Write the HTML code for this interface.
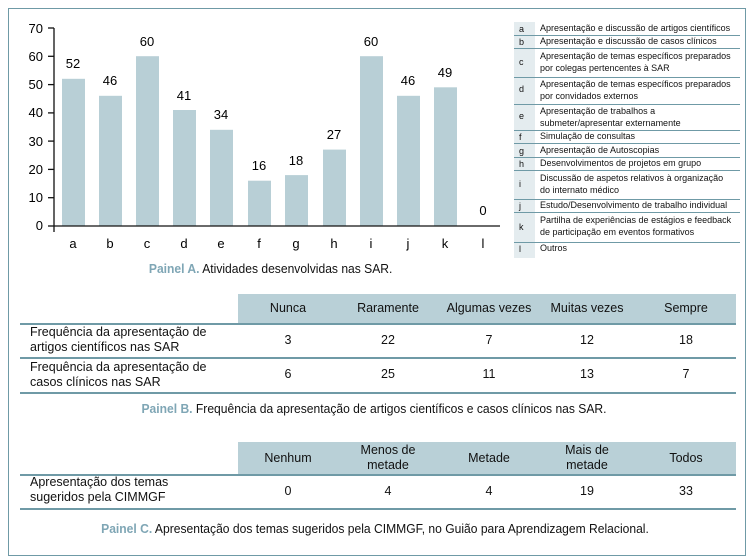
<!DOCTYPE html>
<html><head><meta charset="utf-8"><style>
body{margin:0;width:751px;height:559px;background:#fff;font-family:"Liberation Sans",sans-serif;color:#111;position:relative;overflow:hidden}
.a{position:absolute;white-space:nowrap}
.frame{position:absolute;left:8px;top:8px;width:738px;height:548px;border:1.5px solid #6f9aa6;box-sizing:border-box}
.cap{font-size:13px;transform:scaleX(0.93);transform-origin:center}
.cap b{color:#7fa6b5}
.hdr{position:absolute;background:#b9d0d7}
.ln{position:absolute;height:1.5px;background:#6f9aa6}
.c{position:absolute;text-align:center;font-size:12.5px;transform:translateX(-50%);white-space:nowrap;line-height:15px}
.lg{position:absolute;left:540px;font-size:9px;line-height:11.5px;white-space:nowrap}
.lt{position:absolute;left:519px;font-size:9px}
.ll{position:absolute;left:514px;width:226px;height:1px;background:#6f9aa6}
</style></head><body>
<div class="frame"></div>
<svg class="a" style="left:0;top:0" width="510" height="260" font-family="Liberation Sans" font-size="13">
<g fill="#b8cfd6">
<rect x="62" y="78.8" width="23" height="147.2"/>
<rect x="99" y="95.8" width="23" height="130.2"/>
<rect x="136" y="56.2" width="23" height="169.8"/>
<rect x="173" y="110" width="23" height="116"/>
<rect x="210" y="129.8" width="23" height="96.2"/>
<rect x="248" y="180.7" width="23" height="45.3"/>
<rect x="285" y="175.1" width="23" height="50.9"/>
<rect x="323" y="149.6" width="23" height="76.4"/>
<rect x="360" y="56.2" width="23" height="169.8"/>
<rect x="397" y="95.8" width="23" height="130.2"/>
<rect x="434" y="87.3" width="23" height="138.7"/>
</g>
<g stroke="#111" stroke-width="1.3">
<line x1="54" y1="28" x2="54" y2="232"/>
<line x1="54" y1="226" x2="500" y2="226"/>
<line x1="48" y1="28" x2="54" y2="28"/><line x1="48" y1="56.3" x2="54" y2="56.3"/><line x1="48" y1="84.6" x2="54" y2="84.6"/><line x1="48" y1="112.9" x2="54" y2="112.9"/><line x1="48" y1="141.1" x2="54" y2="141.1"/><line x1="48" y1="169.4" x2="54" y2="169.4"/><line x1="48" y1="197.7" x2="54" y2="197.7"/><line x1="48" y1="226" x2="54" y2="226"/>
</g>
<g text-anchor="end">
<text x="43" y="33">70</text><text x="43" y="61">60</text><text x="43" y="89">50</text><text x="43" y="117">40</text><text x="43" y="146">30</text><text x="43" y="174">20</text><text x="43" y="202">10</text><text x="43" y="230">0</text>
</g>
<g text-anchor="middle">
<text x="73" y="68">52</text><text x="110" y="85">46</text><text x="147" y="46">60</text><text x="184" y="100">41</text><text x="221" y="119">34</text><text x="259" y="170">16</text><text x="296" y="165">18</text><text x="334" y="139">27</text><text x="371" y="46">60</text><text x="408" y="85">46</text><text x="445" y="77">49</text><text x="483" y="215">0</text>
<text x="73" y="248">a</text><text x="110" y="248">b</text><text x="147" y="248">c</text><text x="184" y="248">d</text><text x="221" y="248">e</text><text x="259" y="248">f</text><text x="296" y="248">g</text><text x="334" y="248">h</text><text x="371" y="248">i</text><text x="408" y="248">j</text><text x="445" y="248">k</text><text x="483" y="248">l</text>
</g>
</svg>
<div class="a cap" style="left:140px;top:261px;width:254px;text-align:center"><b>Painel A.</b> Atividades desenvolvidas nas SAR.</div>
<div class="a" style="left:514px;top:22px;width:21px;height:236px;background:#e4ecef"></div>
<div class="ll" style="top:35px"></div><div class="ll" style="top:48px"></div><div class="ll" style="top:77px"></div><div class="ll" style="top:104px"></div><div class="ll" style="top:130px"></div><div class="ll" style="top:143px"></div><div class="ll" style="top:157px"></div><div class="ll" style="top:170px"></div><div class="ll" style="top:199px"></div><div class="ll" style="top:212px"></div><div class="ll" style="top:242px"></div>
<div class="lt" style="top:24px">a</div><div class="lg" style="top:23px">Apresentação e discussão de artigos científicos</div>
<div class="lt" style="top:37px">b</div><div class="lg" style="top:36px">Apresentação e discussão de casos clínicos</div>
<div class="lt" style="top:57px">c</div><div class="lg" style="top:51px">Apresentação de temas específicos preparados<br>por colegas pertencentes à SAR</div>
<div class="lt" style="top:84px">d</div><div class="lg" style="top:79px">Apresentação de temas específicos preparados<br>por convidados externos</div>
<div class="lt" style="top:111px">e</div><div class="lg" style="top:106px">Apresentação de trabalhos a<br>submeter/apresentar externamente</div>
<div class="lt" style="top:132px">f</div><div class="lg" style="top:131px">Simulação de consultas</div>
<div class="lt" style="top:146px">g</div><div class="lg" style="top:145px">Apresentação de Autoscopias</div>
<div class="lt" style="top:159px">h</div><div class="lg" style="top:158px">Desenvolvimentos de projetos em grupo</div>
<div class="lt" style="top:179px">i</div><div class="lg" style="top:173px">Discussão de aspetos relativos à organização<br>do internato médico</div>
<div class="lt" style="top:201px">j</div><div class="lg" style="top:200px">Estudo/Desenvolvimento de trabalho individual</div>
<div class="lt" style="top:222px">k</div><div class="lg" style="top:215px">Partilha de experiências de estágios e feedback<br>de participação em eventos formativos</div>
<div class="lt" style="top:244px">l</div><div class="lg" style="top:243px">Outros</div>

<div class="hdr" style="left:238px;top:294px;width:498px;height:29px"></div>
<div class="ln" style="left:20px;top:323px;width:716px"></div>
<div class="ln" style="left:20px;top:357px;width:716px"></div>
<div class="ln" style="left:20px;top:392px;width:716px"></div>
<div class="c" style="left:288px;top:301px">Nunca</div><div class="c" style="left:388px;top:301px">Raramente</div><div class="c" style="left:489px;top:301px">Algumas vezes</div><div class="c" style="left:587px;top:301px">Muitas vezes</div><div class="c" style="left:686px;top:301px">Sempre</div>
<div class="a" style="left:30px;top:325px;font-size:12.5px;line-height:15px">Frequência da apresentação de<br>artigos científicos nas SAR</div>
<div class="c" style="left:288px;top:333px">3</div><div class="c" style="left:388px;top:333px">22</div><div class="c" style="left:489px;top:333px">7</div><div class="c" style="left:587px;top:333px">12</div><div class="c" style="left:686px;top:333px">18</div>
<div class="a" style="left:30px;top:360px;font-size:12.5px;line-height:15px">Frequência da apresentação de<br>casos clínicos nas SAR</div>
<div class="c" style="left:288px;top:367px">6</div><div class="c" style="left:388px;top:367px">25</div><div class="c" style="left:489px;top:367px">11</div><div class="c" style="left:587px;top:367px">13</div><div class="c" style="left:686px;top:367px">7</div>
<div class="a cap" style="left:90px;top:401px;width:568px;text-align:center"><b>Painel B.</b> Frequência da apresentação de artigos científicos e casos clínicos nas SAR.</div>

<div class="hdr" style="left:238px;top:442px;width:498px;height:32px"></div>
<div class="ln" style="left:20px;top:474px;width:716px"></div>
<div class="ln" style="left:20px;top:508px;width:716px"></div>
<div class="c" style="left:288px;top:451px">Nenhum</div><div class="c" style="left:388px;top:443px">Menos de<br>metade</div><div class="c" style="left:489px;top:451px">Metade</div><div class="c" style="left:587px;top:443px">Mais de<br>metade</div><div class="c" style="left:686px;top:451px">Todos</div>
<div class="a" style="left:30px;top:475px;font-size:12.5px;line-height:15px">Apresentação dos temas<br>sugeridos pela CIMMGF</div>
<div class="c" style="left:288px;top:484px">0</div><div class="c" style="left:388px;top:484px">4</div><div class="c" style="left:489px;top:484px">4</div><div class="c" style="left:587px;top:484px">19</div><div class="c" style="left:686px;top:484px">33</div>
<div class="a cap" style="left:50px;top:521px;width:650px;text-align:center"><b>Painel C.</b> Apresentação dos temas sugeridos pela CIMMGF, no Guião para Aprendizagem Relacional.</div>
</body></html>
